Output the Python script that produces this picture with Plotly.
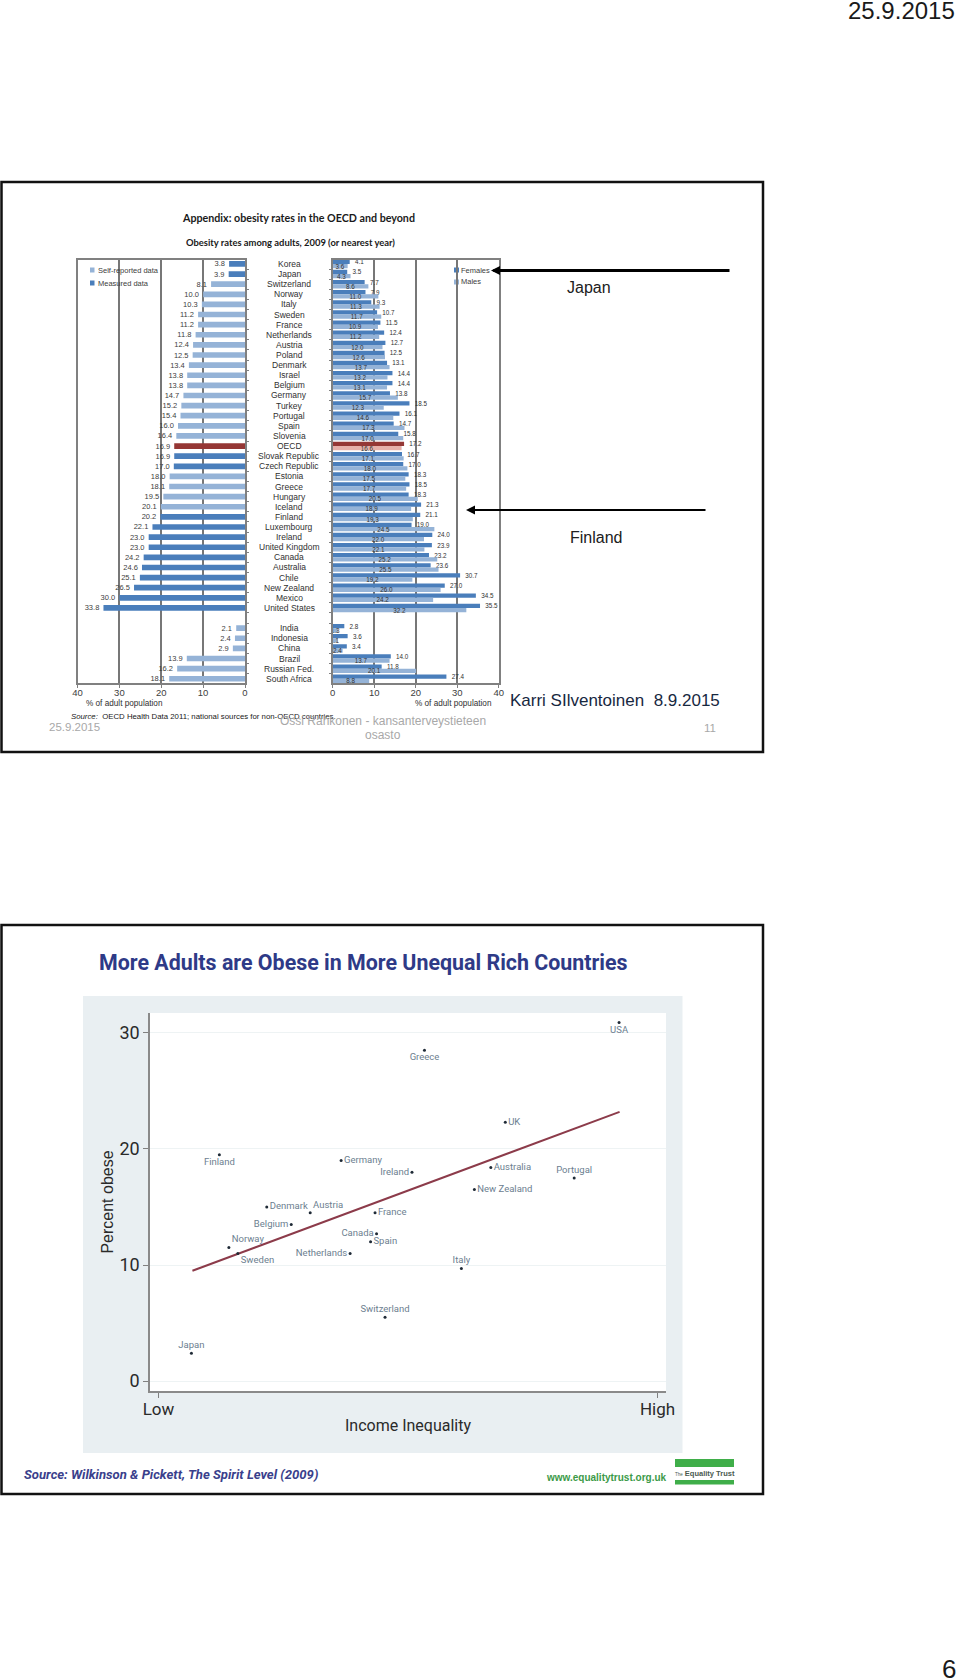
import plotly.graph_objects as go

# ---- slide 1: obesity rates in the OECD and beyond
countries = ["Korea", "Japan", "Switzerland", "Norway", "Italy", "Sweden", "France", "Netherlands",
             "Austria", "Poland", "Denmark", "Israel", "Belgium", "Germany", "Turkey", "Portugal",
             "Spain", "Slovenia", "OECD", "Slovak Republic", "Czech Republic", "Estonia", "Greece",
             "Hungary", "Iceland", "Finland", "Luxembourg", "Ireland", "United Kingdom", "Canada",
             "Australia", "Chile", "New Zealand", "Mexico", "United States",
             "India", "Indonesia", "China", "Brazil", "Russian Fed.", "South Africa"]
rows = list(range(35)) + [36, 37, 38, 39, 40, 41]
adults = [3.8, 3.9, 8.1, 10.0, 10.3, 11.2, 11.2, 11.8, 12.4, 12.5, 13.4, 13.8, 13.8, 14.7, 15.2, 15.4,
          16.0, 16.4, 16.9, 16.9, 17.0, 18.0, 18.1, 19.5, 20.1, 20.2, 22.1, 23.0, 23.0, 24.2, 24.6,
          25.1, 26.5, 30.0, 33.8, 2.1, 2.4, 2.9, 13.9, 16.2, 18.1]
measured = ["Korea", "Japan", "Slovak Republic", "Czech Republic", "Finland", "Luxembourg", "Ireland",
            "United Kingdom", "Canada", "Australia", "Chile", "New Zealand", "Mexico", "United States"]
females = [4.1, 3.5, 7.7, 7.9, 9.3, 10.7, 11.5, 12.4, 12.7, 12.5, 13.1, 14.4, 14.4, 13.8, 18.5, 16.1,
           14.7, 15.8, 17.2, 16.7, 17.0, 18.3, 18.5, 18.3, 21.3, 21.1, 19.0, 24.0, 23.9, 23.2, 23.6,
           30.7, 27.0, 34.5, 35.5, 2.8, 3.6, 3.4, 14.0, 11.8, 27.4]
males = [3.6, 4.3, 8.6, 11.0, 11.3, 11.7, 10.9, 11.2, 12.0, 12.6, 13.7, 13.2, 13.1, 15.7, 12.3, 14.6,
         17.3, 17.0, 16.6, 17.1, 18.0, 17.5, 17.7, 20.5, 18.9, 19.3, 24.5, 22.0, 22.1, 25.2, 25.5,
         19.2, 26.0, 24.2, 32.2, 1.3, 1.1, 2.4, 13.7, 20.1, 8.8]

# ---- slide 2: income inequality scatter
places = ["Japan", "Finland", "Norway", "Sweden", "Denmark", "Belgium", "Austria", "Germany", "Netherlands",
          "Spain", "France", "Canada", "Switzerland", "Ireland", "Greece", "Italy", "New Zealand",
          "Australia", "UK", "Portugal", "USA"]
inequality = [6.6, 12.2, 14.1, 15.9, 21.7, 26.6, 30.4, 36.6, 38.4, 42.5, 43.4, 43.7, 45.4, 50.8, 53.3,
              60.7, 63.3, 66.6, 69.5, 83.3, 92.3]
obese = [2.4, 19.5, 11.5, 11.0, 15.0, 13.5, 14.5, 19.0, 11.0, 12.0, 14.5, 12.7, 5.5, 18.0, 28.5, 9.7,
         16.5, 18.4, 22.3, 17.5, 30.9]
trend_x = [6.8, 92.4]
trend_y = [9.5, 23.2]

BLUE = "#4A7EBB"
LIGHT = "#95B3D7"
GREY = "#808080"
SANS = "Liberation Sans"
NARROW = "Roboto"


def px(x):
    return x / 960


def py(y):
    return 1 - y / 1680


def left_color(name):
    if name == "OECD":
        return "#953735"
    return BLUE if name in measured else LIGHT


fig = go.Figure()

fig.add_trace(go.Bar(y=rows, x=adults, orientation="h", width=0.56, xaxis="x", yaxis="y",
                     marker=dict(color=[left_color(c) for c in countries], line_width=0),
                     text=[f"{v:.1f}\u00a0\u00a0" for v in adults], textposition="outside", textangle=0,
                     constraintext="none", cliponaxis=False,
                     textfont=dict(family=SANS, size=7.5, color="#404040")))
fig.add_trace(go.Bar(y=rows, x=females, orientation="h", xaxis="x2", yaxis="y2", name="Females",
                     marker=dict(color=["#953735" if c == "OECD" else BLUE for c in countries], line_width=0),
                     text=[f"\u00a0\u00a0\u00a0{v:.1f}" for v in females], textposition="outside", textangle=0,
                     constraintext="none", cliponaxis=False,
                     textfont=dict(family=SANS, size=6.3, color="#303030")))
fig.add_trace(go.Bar(y=rows, x=males, orientation="h", xaxis="x2", yaxis="y2", name="Males",
                     marker=dict(color=["#E6B0AA" if c == "OECD" else LIGHT for c in countries], line_width=0),
                     text=[f"{v:.1f}" for v in males], textposition="inside", insidetextanchor="middle",
                     textangle=0, constraintext="none",
                     textfont=dict(family=SANS, size=6.3, color="#303030")))

# where each scatter label sits round its point
label_sides = ["top center", "bottom center", "top right", "bottom right", "middle right", "middle left",
               "top right", "middle right", "middle left", "middle right", "middle right", "middle left",
               "top center", "middle left", "bottom center", "top center", "middle right", "middle right",
               "middle right", "top center", "bottom center"]
fig.add_trace(go.Scatter(x=trend_x, y=trend_y, mode="lines", xaxis="x3", yaxis="y3",
                         line=dict(color="#8C3B4A", width=2)))
fig.add_trace(go.Scatter(x=inequality, y=obese, mode="markers+text", xaxis="x3", yaxis="y3",
                         marker=dict(size=3, color="#1F2A36"), text=places, textposition=label_sides,
                         textfont=dict(family=NARROW, size=9.5, color="#6C8090")))

left_box = [py(683), py(259.5)]
row_ticks = [r - 0.5 for r in range(0, 43)]
panel_axis = dict(showline=True, linecolor=GREY, linewidth=1.5, mirror=True, ticks="outside", ticklen=3,
                  tickcolor=GREY, tickvals=[0, 10, 20, 30, 40], showgrid=True, gridcolor="#777777", gridwidth=2,
                  zeroline=False, ticklabelstandoff=-3, tickfont=dict(family=SANS, size=9.5, color="#404040"))
row_axis = dict(range=[41.42, -0.44], domain=left_box, showline=True, linecolor=GREY, linewidth=1.5, mirror=True,
                ticks="outside", ticklen=2, tickcolor=GREY, tickvals=row_ticks, showticklabels=False,
                showgrid=False, zeroline=False)

fig.update_layout(
    width=960, height=1680, margin=dict(l=0, r=0, t=0, b=0, autoexpand=False), showlegend=False,
    paper_bgcolor="white", plot_bgcolor="rgba(0,0,0,0)", barmode="group", bargap=0.16, bargroupgap=0,
    xaxis=dict(panel_axis, range=[40, 0], domain=[px(77.5), px(245)], anchor="y"),
    yaxis=dict(row_axis, anchor="x", side="right"),
    xaxis2=dict(panel_axis, range=[0, 40], domain=[px(332.7), px(498.7)], anchor="y2"),
    yaxis2=dict(row_axis, anchor="x2", side="left"),
    xaxis3=dict(range=[-1.7, 101.7], domain=[px(150), px(666)], anchor="y3", tickvals=[0, 100],
                ticktext=["Low", "High"], ticks="outside", ticklen=5, tickcolor=GREY, showgrid=False,
                zeroline=False, showline=True, linecolor="#8A8A8A", linewidth=1.5, ticklabelstandoff=-3,
                tickfont=dict(family=NARROW, size=17, color="#2A2A2A"),
                title=dict(text="Income Inequality", standoff=2, font=dict(family=NARROW, size=16, color="#2A2A2A"))),
    yaxis3=dict(range=[-0.86, 31.72], domain=[py(1391), py(1013)], anchor="x3", tickvals=[0, 10, 20, 30],
                ticks="outside", ticklen=5, tickcolor=GREY, showgrid=True, gridcolor="#EEF3F4", gridwidth=1,
                zeroline=False, showline=True, linecolor="#8A8A8A", linewidth=1.5,
                tickfont=dict(family=NARROW, size=18, color="#2A2A2A"),
                title=dict(text="Percent obese", standoff=2, font=dict(family=SANS, size=16, color="#2A2A2A"))),
)


def box(x0, y0, x1, y1, **style):
    fig.add_shape(type="rect", xref="paper", yref="paper", x0=px(x0), x1=px(x1), y0=py(y1), y1=py(y0),
                  layer="below", **style)


# slide frames, grey panel and logo bars
box(1.5, 182, 763, 752, line=dict(color="#111111", width=2.5), fillcolor="white")
box(1.5, 925, 763, 1494, line=dict(color="#111111", width=2.5), fillcolor="white")
box(83, 996, 682.5, 1453, line_width=0, fillcolor="#E9EFF2")
box(150, 1013, 666, 1391, line_width=0, fillcolor="white")
box(675, 1459, 734, 1467, line_width=0, fillcolor="#3FAE49")
box(675, 1480, 734, 1484.5, line_width=0, fillcolor="#3FAE49")
# legend swatches
box(90, 267.5, 94.5, 272.5, line_width=0, fillcolor=LIGHT)
box(90, 280.5, 94.5, 285.5, line_width=0, fillcolor=BLUE)
box(454, 267.5, 459, 272.5, line_width=0, fillcolor=BLUE)
box(454, 279.5, 459, 284.5, line_width=0, fillcolor=LIGHT)


def note(x, y, text, size, color="#303030", anchor="center", family=SANS, **extra):
    fig.add_annotation(x=px(x), y=py(y), xref="paper", yref="paper", text=text, showarrow=False, xanchor=anchor,
                       yanchor="middle", font=dict(family=family, size=size, color=color), **extra)


for name, row in zip(countries, rows):
    fig.add_annotation(x=px(289), y=row, xref="paper", yref="y", text=name, showarrow=False, xanchor="center",
                       font=dict(family=SANS, size=8.5, color="#303030"))

note(298.5, 217.5, "<b>Appendix: obesity rates in the OECD and beyond</b>", 10.7, "#1A1A1A", family="Lato")
note(290, 242.5, "<b>Obesity rates among adults, 2009 (or nearest year)</b>", 9.4, "#1A1A1A", family="Lato")
note(95.5, 270, "Self-reported data", 7.5, "#404040", "left")
note(95.5, 283, "Measured data", 7.5, "#404040", "left")
note(459, 270, "Females", 7.5, "#404040", "left")
note(459, 282, "Males", 7.5, "#404040", "left")
note(124, 703, "% of adult population", 8.2, "#303030")
note(453, 703.5, "% of adult population", 8.2, "#303030")
note(69, 716, "<i>Source:</i>  OECD Health Data 2011; national sources for non-OECD countries.", 7.8, "#202020", "left")
note(589, 287, "Japan", 16, "#202020")
note(596, 537, "Finland", 16, "#202020")
note(508, 700.5, "Karri SIlventoinen  8.9.2015", 17, "#17283F", "left")
note(47, 727, "25.9.2015", 11.5, "#A8A8A8", "left")
note(383, 721, "Ossi Rahkonen - kansanterveystieteen", 12, "#A8A8A8")
note(383, 735, "osasto", 12, "#A8A8A8")
note(710, 727.5, "11", 11.5, "#A8A8A8")
note(957, 11, "25.9.2015", 24, "#1A1A1A", "right")
note(949, 1669, "6", 26, "#1A1A1A")

note(363.5, 962.5, "<b>More Adults are Obese in More Unequal Rich Countries</b>", 21.4, "#2E3A87", family=NARROW)
note(22, 1474, "<b><i>Source: Wilkinson &amp; Pickett, The Spirit Level (2009)</i></b>", 13.1, "#3A3F8C", "left", family=NARROW)
note(544, 1477.5, "<b>www.equalitytrust.org.uk</b>", 10, "#3C9A48", "left")
note(704.5, 1473, "<span style=\"font-size:4.5px\">The</span> <b>Equality Trust</b>", 7.5, "#4A5A50")

# arrows pointing at the Japan and Finland rows
fig.add_annotation(x=px(491), y=py(270.5), xref="paper", yref="paper", ax=240, ay=0, axref="pixel", ayref="pixel",
                   showarrow=True, arrowhead=2, arrowsize=0.6, arrowwidth=3, arrowcolor="black", text="")
fig.add_annotation(x=px(466), y=py(510), xref="paper", yref="paper", ax=241, ay=0, axref="pixel", ayref="pixel",
                   showarrow=True, arrowhead=2, arrowsize=0.9, arrowwidth=2, arrowcolor="black", text="")

fig.write_html("out.html", config={"displayModeBar": False}, post_script="document.body.style.margin='0';")
